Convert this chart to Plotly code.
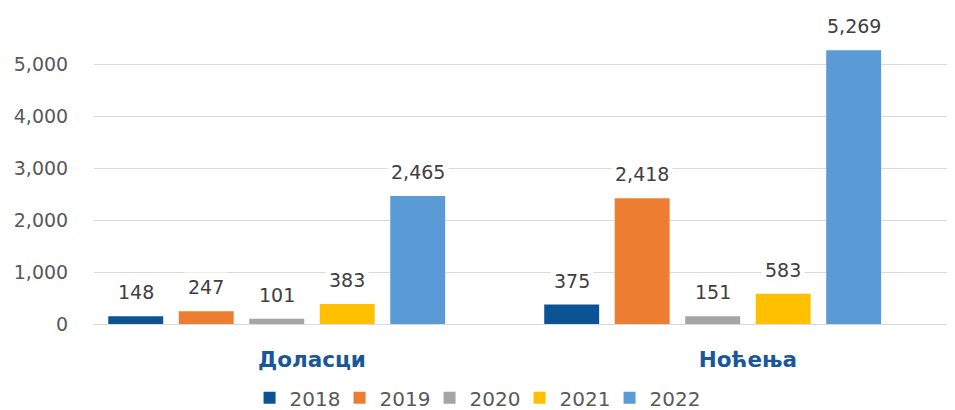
"""Доласци и ноћења по годинама, груписани стубићи."""

import plotly.graph_objects as go

categories = ["Доласци", "Ноћења"]
years = ["2018", "2019", "2020", "2021", "2022"]
values = {
    "2018": [148, 375],
    "2019": [247, 2418],
    "2020": [101, 151],
    "2021": [383, 583],
    "2022": [2465, 5269],
}
colors = ["#0B5394", "#ED7D31", "#A5A5A5", "#FFC000", "#5B9BD5"]
tick_vals = [0, 1000, 2000, 3000, 4000, 5000]

FONT = "DejaVu Sans, sans-serif"

# Excel group has six slots (the last one empty), bars sit in the first five
slot = 0.1617
bar_w = 0.126
group_left = -3 * slot

fig = go.Figure()
xs = list(range(len(categories)))
annotations = []
for k, yr in enumerate(years):
    off = group_left + k * slot + (slot - bar_w) / 2
    fig.add_trace(go.Bar(
        x=xs, y=values[yr], name=yr,
        offset=off, width=bar_w,
        marker=dict(color=colors[k], line=dict(width=0)),
    ))
    for i, v in enumerate(values[yr]):
        annotations.append(dict(
            x=i + off + bar_w / 2, y=v, xref="x", yref="y",
            text=f"{v:,}", showarrow=False, yshift=24,
            font=dict(family=FONT, size=19, color="#404040"),
            bgcolor="white", borderpad=3,
        ))

# the page body adds an 8px margin, so the figure is 8px smaller than the window
fig.update_layout(
    width=947, height=402,
    barmode="overlay",
    paper_bgcolor="white", plot_bgcolor="white",
    margin=dict(l=86, r=0, t=12, b=86, autoexpand=False),
    font=dict(family=FONT, size=19, color="#595959"),
    xaxis=dict(
        range=[-0.5, 1.475],
        tickvals=xs,
        ticktext=[f"<b>{c}</b>" for c in categories],
        tickfont=dict(family=FONT, size=21.5, color="#1A5799"),
        ticks="outside", ticklen=16, tickcolor="rgba(0,0,0,0)",
        showgrid=False, showline=False, zeroline=False,
        automargin=False,
    ),
    yaxis=dict(
        range=[0, 5850],
        tickvals=tick_vals,
        tickformat=",",
        tickfont=dict(family=FONT, size=19, color="#595959"),
        ticks="outside", ticklen=21, tickcolor="rgba(0,0,0,0)",
        showgrid=True, gridcolor="#D9D9D9", gridwidth=1,
        zeroline=True, zerolinecolor="#D9D9D9", zerolinewidth=1,
        showline=False, automargin=False,
    ),
    legend=dict(
        orientation="h", x=0.442, xanchor="center", y=-0.243, yanchor="middle",
        font=dict(family=FONT, size=20, color="#595959"),
        itemwidth=30, entrywidth=45, traceorder="normal",
    ),
    annotations=annotations,
)

fig.write_html("out.html")
